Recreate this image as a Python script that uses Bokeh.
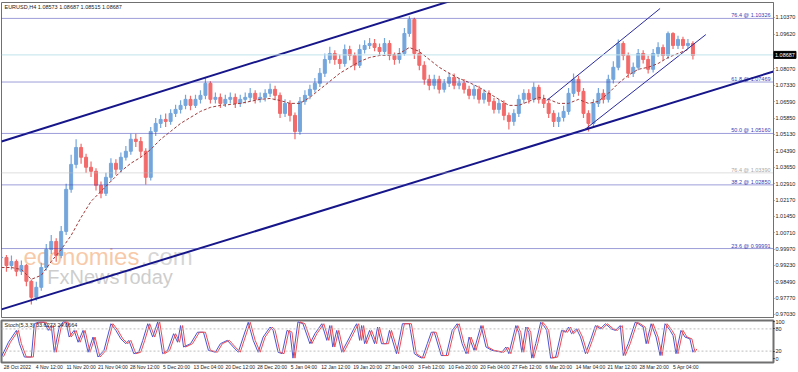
from bokeh.plotting import figure
from bokeh.layouts import column
from bokeh.models import Range1d, FixedTicker, Span, NumeralTickFormatter
from bokeh.embed import file_html
from bokeh.resources import INLINE
from bokeh.core.properties import value

# ---------------- data ----------------
title_text = "EURUSD,H4  1.08573 1.08687 1.08515 1.08687"
last_price = 1.08687

bar_x = list(range(0, 700, 5))
closes = [
    0.9959, 0.9923, 0.9941, 0.9897, 0.9923, 0.9852, 0.9780, 0.9825, 0.9914, 0.9995,
    1.0031, 0.9968, 1.0076, 1.0265, 1.0377, 1.0453, 1.0409, 1.0364, 1.0346, 1.0283,
    1.0247, 1.0319, 1.0382, 1.0355, 1.0409, 1.0436, 1.0490, 1.0480, 1.0436, 1.0319,
    1.0525, 1.0561, 1.0579, 1.0570, 1.0606, 1.0624, 1.0642, 1.0669, 1.0642, 1.0669,
    1.0687, 1.0741, 1.0669, 1.0678, 1.0651, 1.0669, 1.0678, 1.0651, 1.0669, 1.0678,
    1.0696, 1.0669, 1.0678, 1.0696, 1.0714, 1.0687, 1.0606, 1.0651, 1.0597, 1.0525,
    1.0660, 1.0687, 1.0714, 1.0741, 1.0786, 1.0848, 1.0875, 1.0848, 1.0830, 1.0893,
    1.0866, 1.0822, 1.0893, 1.0911, 1.0920, 1.0902, 1.0884, 1.0920, 1.0866, 1.0848,
    1.0875, 1.0965, 1.1028, 1.0875, 1.0822, 1.0759, 1.0732, 1.0759, 1.0714, 1.0741,
    1.0768, 1.0732, 1.0741, 1.0714, 1.0687, 1.0714, 1.0669, 1.0696, 1.0660, 1.0624,
    1.0651, 1.0597, 1.0570, 1.0606, 1.0669, 1.0696, 1.0669, 1.0723, 1.0669, 1.0651,
    1.0606, 1.0570, 1.0588, 1.0615, 1.0696, 1.0759, 1.0705, 1.0606, 1.0561, 1.0651,
    1.0696, 1.0669, 1.0759, 1.0813, 1.0920, 1.0866, 1.0786, 1.0813, 1.0875, 1.0848,
    1.0804, 1.0875, 1.0902, 1.0866, 1.0965, 1.0911, 1.0938, 1.0911, 1.0920, 1.0866,
]
highs = [
    0.9995, 0.9970, 0.9968, 0.9950, 0.9945, 0.9930, 0.9860, 0.9850, 0.9935, 1.0020,
    1.0060, 1.0045, 1.0100, 1.0290, 1.0420, 1.0490, 1.0470, 1.0425, 1.0390, 1.0360,
    1.0300, 1.0340, 1.0405, 1.0400, 1.0430, 1.0460, 1.0515, 1.0515, 1.0500, 1.0450,
    1.0545, 1.0585, 1.0600, 1.0605, 1.0625, 1.0645, 1.0665, 1.0690, 1.0685, 1.0690,
    1.0710, 1.0765, 1.0750, 1.0700, 1.0695, 1.0690, 1.0700, 1.0695, 1.0690, 1.0700,
    1.0720, 1.0710, 1.0700, 1.0715, 1.0740, 1.0730, 1.0700, 1.0670, 1.0665, 1.0610,
    1.0680, 1.0710, 1.0735, 1.0765, 1.0810, 1.0875, 1.0905, 1.0890, 1.0870, 1.0915,
    1.0910, 1.0880, 1.0915, 1.0935, 1.0945, 1.0940, 1.0920, 1.0945, 1.0935, 1.0880,
    1.0900, 1.0990, 1.1042, 1.1035, 1.0895, 1.0840, 1.0780, 1.0780, 1.0775, 1.0760,
    1.0790, 1.0785, 1.0765, 1.0760, 1.0730, 1.0735, 1.0730, 1.0715, 1.0710, 1.0675,
    1.0670, 1.0665, 1.0610, 1.0625, 1.0690, 1.0715, 1.0715, 1.0745, 1.0735, 1.0690,
    1.0665, 1.0620, 1.0610, 1.0640, 1.0720, 1.0785, 1.0775, 1.0720, 1.0620, 1.0670,
    1.0720, 1.0715, 1.0780, 1.0840, 1.0938, 1.0930, 1.0880, 1.0835, 1.0895, 1.0890,
    1.0865, 1.0895, 1.0925, 1.0915, 1.0974, 1.0970, 1.0955, 1.0950, 1.0940, 1.0930,
]
lows = [
    0.9905, 0.9895, 0.9905, 0.9875, 0.9880, 0.9830, 0.9748, 0.9765, 0.9810, 0.9900,
    0.9975, 0.9940, 0.9955, 1.0060, 1.0250, 1.0360, 1.0380, 1.0340, 1.0320, 1.0260,
    1.0225, 1.0235, 1.0300, 1.0330, 1.0340, 1.0395, 1.0420, 1.0455, 1.0410, 1.0287,
    1.0305, 1.0505, 1.0540, 1.0545, 1.0555, 1.0590, 1.0605, 1.0625, 1.0620, 1.0630,
    1.0650, 1.0670, 1.0650, 1.0650, 1.0630, 1.0635, 1.0650, 1.0630, 1.0635, 1.0650,
    1.0660, 1.0650, 1.0655, 1.0660, 1.0680, 1.0665, 1.0585, 1.0590, 1.0570, 1.0490,
    1.0510, 1.0645, 1.0670, 1.0700, 1.0725, 1.0770, 1.0830, 1.0825, 1.0805, 1.0815,
    1.0845, 1.0800, 1.0810, 1.0875, 1.0895, 1.0885, 1.0865, 1.0870, 1.0845, 1.0825,
    1.0830, 1.0865, 1.0950, 1.0850, 1.0800, 1.0735, 1.0710, 1.0715, 1.0695, 1.0700,
    1.0725, 1.0715, 1.0715, 1.0695, 1.0670, 1.0670, 1.0650, 1.0650, 1.0640, 1.0605,
    1.0605, 1.0575, 1.0534, 1.0550, 1.0590, 1.0650, 1.0650, 1.0655, 1.0650, 1.0630,
    1.0585, 1.0545, 1.0545, 1.0570, 1.0600, 1.0680, 1.0685, 1.0585, 1.0525, 1.0545,
    1.0635, 1.0650, 1.0655, 1.0740, 1.0800, 1.0845, 1.0765, 1.0770, 1.0800, 1.0830,
    1.0785, 1.0790, 1.0860, 1.0845, 1.0850, 1.0895, 1.0895, 1.0895, 1.0895, 1.0848,
]

ma_x = list(range(0, 700, 10))
ma_vals = [
    0.9914, 0.9914, 0.9905, 0.9861, 0.9879, 0.9941, 0.9995, 1.0058, 1.0139, 1.0211,
    1.0256, 1.0301, 1.0346, 1.0382, 1.0409, 1.0444, 1.0490, 1.0525, 1.0561, 1.0588,
    1.0615, 1.0633, 1.0642, 1.0646, 1.0651, 1.0660, 1.0669, 1.0673, 1.0664, 1.0651,
    1.0651, 1.0678, 1.0714, 1.0750, 1.0786, 1.0813, 1.0839, 1.0857, 1.0866, 1.0866,
    1.0875, 1.0902, 1.0884, 1.0848, 1.0813, 1.0786, 1.0763, 1.0745, 1.0723, 1.0696,
    1.0669, 1.0642, 1.0642, 1.0660, 1.0678, 1.0669, 1.0651, 1.0651, 1.0669, 1.0651,
    1.0660, 1.0696, 1.0741, 1.0777, 1.0804, 1.0813, 1.0830, 1.0857, 1.0875, 1.0893,
]

fib_levels = [1.10326, 1.07469, 1.05160, 1.02850, 0.99991]
fib_labels = ["76.4 @ 1.10326", "61.8 @ 1.07469", "50.0 @ 1.05160", "38.2 @ 1.02850", "23.6 @ 0.99991"]
grey_fib_level = 1.03390
grey_fib_label = "76.4 @ 1.03390"

# channel lines: (bar index, price) end points
big_upper_x, big_upper_y = [0, 500], [1.0480, 1.1179]
big_lower_x, big_lower_y = [0, 776], [0.9726, 1.0794]
thin_upper_x, thin_upper_y = [548, 662], [1.0664, 1.1077]
thin_lower_x, thin_lower_y = [585, 708], [1.0529, 1.0960]

price_ticks = [1.10370, 1.09620, 1.08070, 1.07330, 1.06590, 1.05850, 1.05130, 1.04390,
               1.03650, 1.02910, 1.02170, 1.01450, 1.00710, 0.99970, 0.99230, 0.98490,
               0.97770, 0.97030]

date_ticks = [2, 34, 66, 98, 130, 162, 194, 226, 258, 290, 322, 354, 386, 418, 450,
              482, 514, 546, 578, 610, 642, 674]
date_labels = ["28 Oct 2022", "4 Nov 12:00", "11 Nov 20:00", "21 Nov 04:00", "28 Nov 12:00",
               "5 Dec 20:00", "13 Dec 04:00", "20 Dec 12:00", "28 Dec 20:00", "5 Jan 04:00",
               "12 Jan 12:00", "19 Jan 20:00", "27 Jan 04:00", "3 Feb 12:00", "10 Feb 20:00",
               "20 Feb 04:00", "27 Feb 12:00", "6 Mar 20:00", "14 Mar 04:00", "21 Mar 12:00",
               "28 Mar 20:00", "5 Apr 04:00"]

stoch_title = "Stoch(5,3,3) 33.6273 24.0664"
stoch_x = [0, 7, 15, 18, 23, 30, 33, 37, 43, 47, 50, 53, 58, 62, 65, 68, 73, 77, 82, 87,
           92, 97, 103, 110, 115, 120, 125, 128, 133, 138, 142, 147, 152, 157, 162, 167, 173, 177, 180, 183,
           190, 197, 203, 208, 215, 220, 227, 233, 238, 243, 248, 253, 258, 263, 270, 273, 278, 282, 287, 290,
           293, 298, 303, 310, 315, 322, 327, 330, 333, 337, 342, 350, 355, 357, 360, 362, 365, 370, 375, 378,
           382, 387, 390, 397, 403, 410, 415, 420, 423, 428, 432, 435, 442, 447, 453, 458, 463, 467, 470, 475,
           482, 487, 493, 503, 507, 510, 517, 520, 523, 527, 530, 533, 537, 542, 545, 548, 552, 557, 563, 567,
           570, 573, 578, 582, 587, 592, 597, 602, 607, 613, 617, 622, 625, 630, 637, 640, 645, 648, 653, 658,
           662, 667, 672, 675, 678, 683, 687, 692, 695, 697]
stoch_k = [5, 44, 76, 40, 4, 4, 94, 98, 98, 76, 89, 17, 85, 99, 98, 58, 76, 44, 76, 17,
           58, 4, 22, 94, 76, 53, 40, 49, 13, 17, 49, 94, 58, 99, 13, 22, 67, 44, 89, 31,
           40, 71, 71, 22, 17, 40, 49, 31, 17, 58, 98, 49, 17, 58, 85, 76, 17, 13, 76, 71,
           1, 99, 94, 40, 67, 94, 49, 89, 31, 76, 17, 58, 85, 94, 49, 89, 40, 76, 40, 85,
           40, 40, 76, 13, 94, 94, 13, 4, 1, 40, 71, 71, 8, 8, 76, 94, 40, 13, 58, 22,
           89, 31, 22, 17, 31, 13, 89, 70, 17, 85, 71, 1, 40, 98, 89, 76, 1, 4, 76, 71,
           85, 67, 80, 58, 13, 49, 89, 80, 94, 80, 76, 89, 8, 40, 98, 94, 85, 40, 94, 58,
           8, 94, 76, 62, 13, 76, 58, 53, 17, 26]
stoch_levels = [20, 80]
stoch_ticks = [0, 20, 80, 100]

# ---------------- styling ----------------
UP = "#74a6dc"
DOWN = "#f26a6a"
NAVY = "#16168a"
FIB = "#3b3bb4"
FRAME = "#707070"
FONT = "Liberation Sans"
RB = 23
W = 798

main = figure(width=W, height=318, x_range=Range1d(0, 776), y_range=Range1d(0.9685, 1.1104),
              output_backend="svg", toolbar_location=None, y_axis_location="right",
              x_axis_location=None, min_border_left=1, min_border_right=RB,
              min_border_top=2, min_border_bottom=0)
main.xgrid.visible = False
main.ygrid.visible = False
main.outline_line_color = FRAME
main.outline_line_width = 1

ya = main.yaxis[0]
ya.ticker = FixedTicker(ticks=price_ticks)
ya.formatter = NumeralTickFormatter(format="0.00000")
ya.major_label_text_font_size = "5.5px"
ya.major_label_text_font = FONT
ya.major_label_text_color = "#222222"
ya.major_tick_out = 1
ya.major_tick_in = 0
ya.minor_tick_out = 0
ya.minor_tick_in = 0
ya.major_label_standoff = 1
ya.axis_line_color = FRAME
ya.major_tick_line_color = FRAME

# watermark
main.text(x=[22], y=[0.9905], text=["economies"], text_font=value(FONT), text_font_size="24px",
          text_color="#f6bf98", text_alpha=0.85)
main.text(x=[140], y=[0.9905], text=[".com"], text_font=value(FONT), text_font_size="24px",
          text_color="#cfcfcf", text_alpha=0.85)
main.text(x=[46], y=[0.9820], text=["FxNewsToday"], text_font=value(FONT), text_font_size="20px",
          text_color="#c4c4c4", text_alpha=0.85)

# current price line
main.add_layout(Span(location=last_price, dimension="width", line_color="#bfe4ec", line_width=1))

# fib levels
for lv in fib_levels:
    main.add_layout(Span(location=lv, dimension="width", line_color=FIB, line_width=1, line_dash="1 1"))
main.add_layout(Span(location=grey_fib_level, dimension="width", line_color="#bdbdbd", line_width=1, line_dash="1 1"))
main.text(x=[773] * len(fib_levels), y=fib_levels, text=fib_labels, text_align="right",
          text_baseline="bottom", text_font=value(FONT), text_font_size="5.5px", text_color=FIB)
main.text(x=[773], y=[grey_fib_level], text=[grey_fib_label], text_align="right",
          text_baseline="bottom", text_font=value(FONT), text_font_size="5.5px", text_color="#a8a8a8")

# candles: wick from low to high, body from previous close to close
opens = [closes[0]] + closes[:-1]
tops = [max(o, c) for o, c in zip(opens, closes)]
bottoms = [min(o, c) for o, c in zip(opens, closes)]
cols = [UP if c >= o else DOWN for o, c in zip(opens, closes)]
main.segment(x0=bar_x, y0=lows, x1=bar_x, y1=highs, line_color=cols, line_width=1.2)
main.vbar(x=bar_x, width=3.0, top=tops, bottom=bottoms, fill_color=cols, line_color=cols, line_width=1)

# moving average
main.line(ma_x, ma_vals, line_color="#a03a3a", line_width=1, line_dash="3 2")

# channels
main.line(big_upper_x, big_upper_y, line_color=NAVY, line_width=2)
main.line(big_lower_x, big_lower_y, line_color=NAVY, line_width=2)
main.line(thin_upper_x, thin_upper_y, line_color="#2a2aa0", line_width=1)
main.line(thin_lower_x, thin_lower_y, line_color="#2a2aa0", line_width=1)

# title
main.text(x=[3], y=[1.1085], text=[title_text], text_baseline="middle", text_font=value(FONT),
          text_font_size="5.5px", text_color="#222222")

# price box on the price axis (overlay level, drawn over the axis area)
main.rect(x=[787.5], y=[last_price], width=22, height=7, width_units="screen", height_units="screen",
          fill_color="black", line_color="black", level="overlay")
main.text(x=[777.5], y=[last_price], text=[f"{last_price:.5f}"], text_baseline="middle",
          text_font=value(FONT), text_font_size="5.5px", text_color="white", level="overlay")

# ---------------- stochastic ----------------
st = figure(width=W, height=54, x_range=main.x_range, y_range=Range1d(-10.8, 102.7),
            output_backend="svg", toolbar_location=None, y_axis_location="right",
            min_border_left=1, min_border_right=RB, min_border_top=2, min_border_bottom=10)
st.xgrid.visible = False
st.ygrid.visible = False
st.outline_line_color = FRAME
st.outline_line_width = 2

sy = st.yaxis[0]
sy.ticker = FixedTicker(ticks=stoch_ticks)
sy.major_label_text_font_size = "5.5px"
sy.major_label_text_font = FONT
sy.major_label_text_color = "#222222"
sy.major_tick_out = 1
sy.major_tick_in = 0
sy.minor_tick_out = 0
sy.minor_tick_in = 0
sy.major_label_standoff = 1
sy.axis_line_color = FRAME

# date labels sit to the right of their bar (MetaTrader style)
label_pos = [t + 14 for t in date_ticks]
sx = st.xaxis[0]
sx.ticker = FixedTicker(ticks=label_pos)
sx.major_label_overrides = {p: l for p, l in zip(label_pos, date_labels)}
sx.major_label_text_font_size = "5px"
sx.major_label_text_font = FONT
sx.major_label_text_color = "#222222"
sx.major_tick_out = 0
sx.major_tick_in = 0
sx.minor_tick_out = 0
sx.minor_tick_in = 0
sx.major_label_standoff = 1
sx.axis_line_color = FRAME

for lv in stoch_levels:
    st.add_layout(Span(location=lv, dimension="width", line_color="#bdbdbd", line_width=1, line_dash="2 2"))

st.line(stoch_x, stoch_k, line_color="#4656d4", line_width=1)
st.line([x + 2 for x in stoch_x], stoch_k, line_color="#f24a4a", line_width=1)

st.text(x=[3], y=[99], text=[stoch_title], text_baseline="top", text_font=value(FONT),
        text_font_size="5.5px", text_color="#222222")

layout = column(main, st, spacing=0)
open("out.html", "w").write(file_html(layout, INLINE))
